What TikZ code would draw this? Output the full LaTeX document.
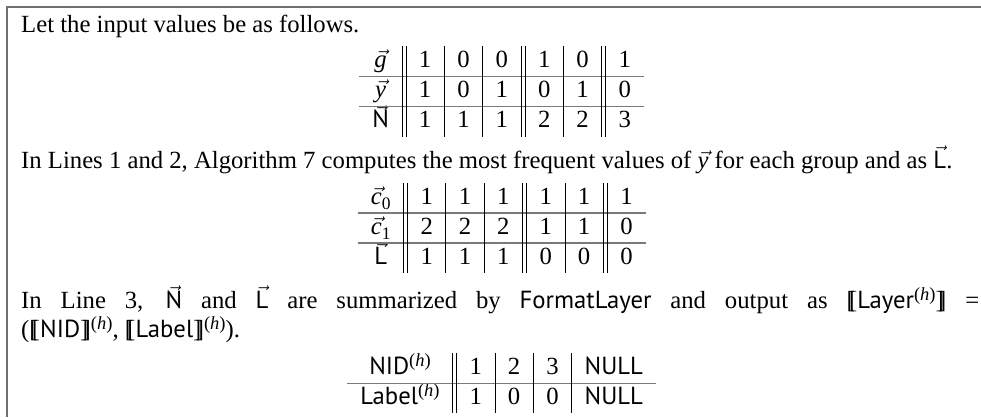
\documentclass[tikz,border=0pt]{standalone}
\usepackage{amsmath}
\usepackage{fontspec}
\setmainfont{Liberation Serif}
\setsansfont{PT Sans}
\usetikzlibrary{matrix}

\definecolor{ruleg}{HTML}{7A7A7A}
\definecolor{boxg}{HTML}{707070}

% small vector arrow (the math accent glyph)
\newcommand{\arrglyph}{\ensuremath{\mathchar"17E}}
% put the arrow over a box: #1 content, #2 lift, #3 horizontal shift
\newcommand{\overarrow}[3]{\setbox0\hbox{#1}\copy0\kern-\wd0
  \hbox to \wd0{\hss\smash{\raisebox{#2}{\kern#3\arrglyph}}\hss}}
\newcommand{\vit}[1]{\overarrow{\itshape #1}{0pt}{0.12em}}
\newcommand{\vsf}[1]{\overarrow{\sffamily #1}{0.17em}{0pt}}
\newcommand{\sub}[1]{\raisebox{-0.2em}{\fontsize{17.5}{17.5}\selectfont #1}}
% semantic brackets
\newcommand{\dlb}{[\kern-0.23em[}
\newcommand{\drb}{]\kern-0.23em]}
\newcommand{\hsup}{\raisebox{8pt}{\fontsize{18.5}{18.5}\selectfont(\textit{h})}}

\tikzset{
  txt/.style={inner sep=0pt, anchor=base west},
  cell/.style={inner xsep=13pt, inner ysep=0pt, text height=21.5pt, text depth=8.5pt, anchor=base},
  tab/.style={matrix of nodes, ampersand replacement=\&, inner sep=0pt, outer sep=0pt,
              row sep=0pt, column sep=0pt, nodes={cell}, anchor=north},
  hrule/.style={draw=ruleg, line width=1.6pt},
  vrule/.style={draw=black, line width=0.8pt},
  boxline/.style={draw=boxg, line width=2pt},
}

\begin{document}
\begin{tikzpicture}[font=\fontsize{24.7}{30}\selectfont]
\useasboundingbox (0,0) rectangle (981pt,-417pt);

% frame of the example box
\draw[boxline] (6.5pt,-417pt) |- (981pt,-7.5pt);

% running text
\node[txt] (l1) at (21pt,-33pt) {Let the input values be as follows.};
\node[txt] (l2) at (21pt,-168pt) {In Lines 1 and 2, Algorithm 7 computes the most frequent values of \vit{y} for each group and as \vsf{L}.};
\node[txt] (l3) at (21pt,-308pt) {\makebox[958pt][s]{In Line 3, \vsf{N} and \vsf{L} are summarized by \textsf{FormatLayer} and output as \dlb\textsf{Layer}\hsup\drb{} =}};
\node[txt] (l4) at (21pt,-337pt) {(\dlb\textsf{NID}\drb\hsup, \dlb\textsf{Label}\drb\hsup).};

% input table
\matrix (t1) [tab] at (501.7pt,-46.5pt) {
  \vit{g} \&[4pt] 1 \& 0 \& 0 \&[4pt] 1 \& 0 \&[4pt] 1 \\
  \vit{y} \& 1 \& 0 \& 1 \& 0 \& 1 \& 0 \\
  \vsf{N} \& 1 \& 1 \& 1 \& 2 \& 2 \& 3 \\
};
\foreach \r in {1,2}
  \draw[hrule] (t1.west |- t1-\r-2.south) -- (t1.east |- t1-\r-2.south);
\foreach \c in {3,4,6}
  \draw[vrule] (t1-1-\c.north west) -- (t1-3-\c.south west);
\foreach \c in {2,5,7} {
  \draw[vrule] (t1-1-\c.north west) -- (t1-3-\c.south west);
  \draw[vrule] ([xshift=-4pt]t1-1-\c.north west) -- ([xshift=-4pt]t1-3-\c.south west);
}

% counts and labels
\matrix (t2) [tab] at (501.7pt,-183pt) {
  \vit{c}\sub{0} \&[4pt] 1 \& 1 \& 1 \&[4pt] 1 \& 1 \&[4pt] 1 \\
  \vit{c}\sub{1} \& 2 \& 2 \& 2 \& 1 \& 1 \& 0 \\
  \vsf{L} \& 1 \& 1 \& 1 \& 0 \& 0 \& 0 \\
};
\foreach \r in {1,2}
  \draw[hrule] (t2.west |- t2-\r-2.south) -- (t2.east |- t2-\r-2.south);
\foreach \c in {3,4,6}
  \draw[vrule] (t2-1-\c.north west) -- (t2-3-\c.south west);
\foreach \c in {2,5,7} {
  \draw[vrule] (t2-1-\c.north west) -- (t2-3-\c.south west);
  \draw[vrule] ([xshift=-4pt]t2-1-\c.north west) -- ([xshift=-4pt]t2-3-\c.south west);
}

% formatted layer
\matrix (t3) [tab] at (501.7pt,-353.3pt) {
  \textsf{NID}\hsup \&[4pt] 1 \& 2 \& 3 \& \textsf{NULL} \\
  \textsf{Label}\hsup \& 1 \& 0 \& 0 \& \textsf{NULL} \\
};
\draw[hrule] (t3.west |- t3-1-2.south) -- (t3.east |- t3-1-2.south);
\foreach \c in {3,4,5}
  \draw[vrule] (t3-1-\c.north west) -- (t3-2-\c.south west);
\draw[vrule] (t3-1-2.north west) -- (t3-2-2.south west);
\draw[vrule] ([xshift=-4pt]t3-1-2.north west) -- ([xshift=-4pt]t3-2-2.south west);
\end{tikzpicture}
\end{document}
